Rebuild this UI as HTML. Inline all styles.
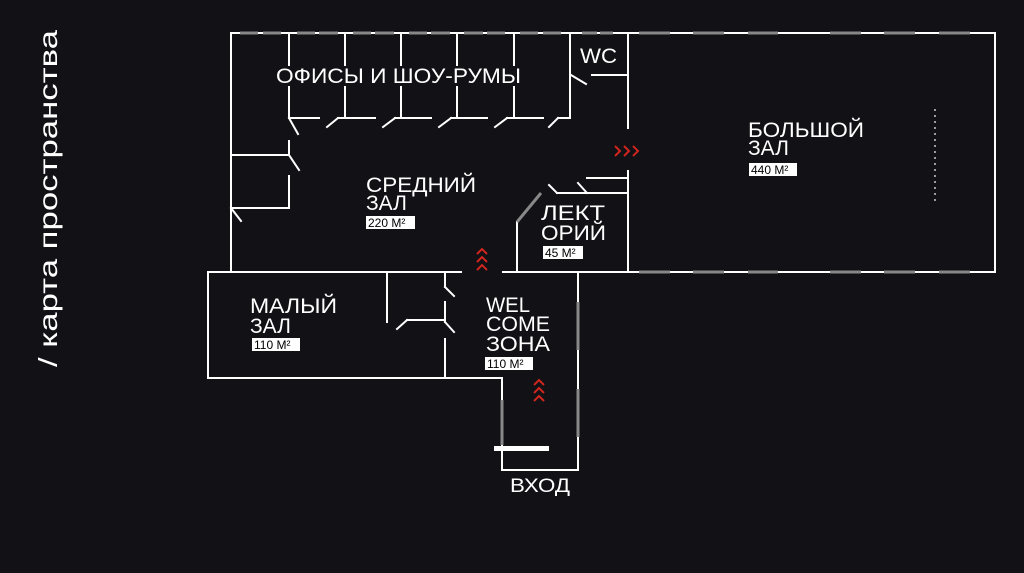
<!DOCTYPE html>
<html><head><meta charset="utf-8"><style>
html,body{margin:0;padding:0;background:#121116;}
svg{display:block}
text{font-family:"Liberation Sans","DejaVu Sans",sans-serif;fill:#fff}
.b{fill:#000;font-size:12px}
</style></head><body>
<svg width="1024" height="573" viewBox="0 0 1024 573" xmlns="http://www.w3.org/2000/svg">
<rect width="1024" height="573" fill="#121116"/>
<g stroke="#fff" stroke-width="2" fill="none" stroke-linecap="square">
<!-- top building -->
<polyline points="231,272 231,33 995,33 995,272 503,272"/>
<line x1="208" y1="272" x2="461" y2="272"/>
<!-- lower part -->
<polyline points="208,272 208,378 502,378 502,470 578,470 578,272"/>
<!-- offices -->
<line x1="289" y1="33" x2="289" y2="65"/><line x1="345" y1="33" x2="345" y2="65"/>
<line x1="401" y1="33" x2="401" y2="65"/><line x1="457" y1="33" x2="457" y2="65"/>
<line x1="514" y1="33" x2="514" y2="65"/>
<line x1="289" y1="87" x2="289" y2="118"/><line x1="345" y1="87" x2="345" y2="118"/>
<line x1="401" y1="87" x2="401" y2="118"/><line x1="457" y1="87" x2="457" y2="118"/>
<line x1="514" y1="87" x2="514" y2="118"/>
<line x1="570" y1="33" x2="570" y2="118"/>
<line x1="289" y1="118" x2="319" y2="118"/>
<line x1="338" y1="118" x2="375" y2="118"/><line x1="327" y1="127" x2="338" y2="118"/>
<line x1="395" y1="118" x2="431" y2="118"/><line x1="383" y1="127" x2="395" y2="118"/>
<line x1="451" y1="118" x2="487" y2="118"/><line x1="439" y1="127" x2="451" y2="118"/>
<line x1="507" y1="118" x2="543" y2="118"/><line x1="495" y1="127" x2="507" y2="118"/>
<line x1="558" y1="118" x2="570" y2="118"/><line x1="549" y1="127" x2="558" y2="118"/>
<!-- left small rooms -->
<line x1="289" y1="118" x2="298" y2="134"/>
<line x1="289" y1="141" x2="289" y2="155"/><line x1="289" y1="155" x2="299" y2="170"/>
<line x1="289" y1="176" x2="289" y2="208"/>
<line x1="231" y1="155" x2="289" y2="155"/><line x1="231" y1="208" x2="289" y2="208"/>
<line x1="231" y1="208" x2="241" y2="221"/>
<!-- WC -->
<line x1="592" y1="75" x2="628" y2="75"/><line x1="571" y1="75" x2="586" y2="84"/>
<line x1="628" y1="33" x2="628" y2="128"/>
<line x1="628" y1="171" x2="628" y2="272"/>
<!-- lecture -->
<line x1="587" y1="178" x2="628" y2="178"/><line x1="578" y1="183" x2="587" y2="193"/>
<line x1="557" y1="193" x2="628" y2="193"/><line x1="549" y1="185" x2="557" y2="193"/>
<line x1="517" y1="222" x2="517" y2="272"/>
<!-- small hall -->
<line x1="387" y1="272" x2="387" y2="322"/>
<line x1="445" y1="272" x2="445" y2="287"/><line x1="445" y1="287" x2="454" y2="296"/>
<line x1="445" y1="302" x2="445" y2="322"/><line x1="407" y1="320" x2="445" y2="320"/>
<line x1="397" y1="329" x2="407" y2="320"/><line x1="445" y1="322" x2="454" y2="332"/>
<line x1="445" y1="339" x2="445" y2="378"/>
</g>
<!-- windows -->
<g stroke="#888" stroke-width="3">
<line x1="517" y1="222" x2="541" y2="193" stroke-width="3"/>
<g id="tw">
<line x1="240" y1="33" x2="258" y2="33"/><line x1="263" y1="33" x2="281" y2="33"/>
<line x1="297" y1="33" x2="315" y2="33"/><line x1="319" y1="33" x2="338" y2="33"/>
<line x1="353" y1="33" x2="371" y2="33"/><line x1="375" y1="33" x2="394" y2="33"/>
<line x1="409" y1="33" x2="427" y2="33"/><line x1="431" y1="33" x2="450" y2="33"/>
<line x1="464" y1="33" x2="483" y2="33"/><line x1="487" y1="33" x2="505" y2="33"/>
<line x1="520" y1="33" x2="538" y2="33"/><line x1="543" y1="33" x2="561" y2="33"/>
<line x1="582" y1="33" x2="597" y2="33"/><line x1="600" y1="33" x2="613" y2="33"/>
</g>
<line x1="639" y1="33" x2="670" y2="33"/><line x1="693" y1="33" x2="724" y2="33"/>
<line x1="748" y1="33" x2="778" y2="33"/><line x1="830" y1="33" x2="861" y2="33"/>
<line x1="884" y1="33" x2="915" y2="33"/><line x1="939" y1="33" x2="970" y2="33"/>
<line x1="639" y1="272" x2="670" y2="272"/><line x1="693" y1="272" x2="724" y2="272"/>
<line x1="748" y1="272" x2="778" y2="272"/><line x1="830" y1="272" x2="861" y2="272"/>
<line x1="884" y1="272" x2="915" y2="272"/><line x1="939" y1="272" x2="970" y2="272"/>
<line x1="578" y1="302" x2="578" y2="350"/><line x1="578" y1="389" x2="578" y2="437"/>
<line x1="502" y1="400" x2="502" y2="445"/>
</g>
<rect x="494" y="446" width="55" height="5" fill="#fff"/>
<line x1="935" y1="109" x2="935" y2="203" stroke="#ccc" stroke-width="1.5" stroke-dasharray="2,4"/>
<!-- arrows -->
<g stroke="#d0261e" stroke-width="2" fill="none">
<polyline points="477,254 482,249 487,254"/><polyline points="477,262 482,257 487,262"/><polyline points="477,270 482,265 487,270"/>
<polyline points="534,385 539,380 544,385"/><polyline points="534,393 539,388 544,393"/><polyline points="534,401 539,396 544,401"/>
<polyline points="615,146 620,151 615,156"/><polyline points="624,146 629,151 624,156"/><polyline points="633,146 638,151 633,156"/>
</g>
<!-- labels -->
<g font-size="21">
<text x="276" y="83" textLength="245" lengthAdjust="spacingAndGlyphs">ОФИСЫ И ШОУ-РУМЫ</text>
<text x="580" y="63" textLength="37" lengthAdjust="spacingAndGlyphs">WC</text>
<text x="366" y="192" textLength="110" lengthAdjust="spacingAndGlyphs">СРЕДНИЙ</text>
<text x="366" y="210">ЗАЛ</text>
<text x="541" y="220" textLength="64" lengthAdjust="spacingAndGlyphs">ЛЕКТ</text>
<text x="541" y="240" textLength="65" lengthAdjust="spacingAndGlyphs">ОРИЙ</text>
<text x="748" y="137" textLength="116" lengthAdjust="spacingAndGlyphs">БОЛЬШОЙ</text>
<text x="748" y="155">ЗАЛ</text>
<text x="250" y="313" textLength="87" lengthAdjust="spacingAndGlyphs">МАЛЫЙ</text>
<text x="250" y="333">ЗАЛ</text>
<text x="486" y="312" textLength="44" lengthAdjust="spacingAndGlyphs">WEL</text>
<text x="486" y="331" textLength="64" lengthAdjust="spacingAndGlyphs">COME</text>
<text x="486" y="351" textLength="64" lengthAdjust="spacingAndGlyphs">ЗОНА</text>
<text x="510" y="492" font-size="19" textLength="60" lengthAdjust="spacingAndGlyphs">ВХОД</text>
</g>
<g>
<rect x="366" y="216" width="49" height="13" fill="#fff"/><text class="b" x="368" y="227">220 М²</text>
<rect x="543" y="246" width="40" height="13" fill="#fff"/><text class="b" x="545" y="257">45 М²</text>
<rect x="749" y="163" width="48" height="13" fill="#fff"/><text class="b" x="751" y="174">440 М²</text>
<rect x="252" y="338" width="48" height="13" fill="#fff"/><text class="b" x="254" y="349">110 М²</text>
<rect x="485" y="357" width="48" height="13" fill="#fff"/><text class="b" x="487" y="368">110 М²</text>
</g>
<text transform="translate(57,367) rotate(-90)" font-size="26" textLength="337" lengthAdjust="spacingAndGlyphs">/ карта пространства</text>
</svg>
</body></html>
